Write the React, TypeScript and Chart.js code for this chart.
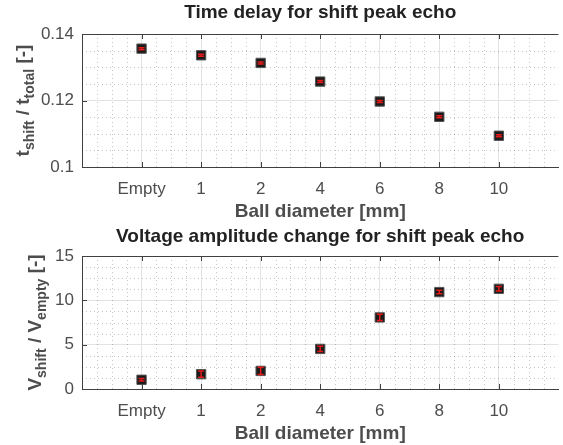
import React, { useEffect, useRef } from 'react';
import { Chart, registerables } from 'chart.js';

Chart.register(...registerables);

const categories = ['Empty', '1', '2', '4', '6', '8', '10'];
const timeRatio = [0.1356, 0.1336, 0.1313, 0.1257, 0.1197, 0.1151, 0.1094];
const timeErr = [0.0003, 0.0003, 0.0003, 0.0003, 0.0003, 0.0003, 0.0003];
const voltRatio = [1.04, 1.67, 2.04, 4.52, 8.07, 10.93, 11.3];
const voltErr = [0.15, 0.35, 0.4, 0.3, 0.35, 0.2, 0.25];
const timeTicks = [0.1, 0.12, 0.14];
const voltTicks = [0, 5, 10, 15];

const FONT = "'Liberation Sans', Arial, Helvetica, sans-serif";
const AXIS_COLOR = '#404040';
const TEXT_COLOR = '#4d4d4d';

type Part = { t: string; sub: boolean };

interface PlotSpec {
  title: string;
  yParts: Part[];
  values: number[];
  errs: number[];
  yTicks: number[];
  minorY: number;
  yTitleX: number;
  titleY: number;
}

function makeChart(canvas: HTMLCanvasElement, spec: PlotSpec) {
  const { values, errs, yTicks, minorY } = spec;
  const yMin = yTicks[0];
  const yMax = yTicks[yTicks.length - 1];
  const xMax = categories.length + 1;

  const decorPlugin = {
    id: 'decor',
    beforeDatasetsDraw(chart: any) {
      const { ctx, chartArea } = chart;
      const xs = chart.scales.x;
      const ys = chart.scales.y;
      ctx.save();
      ctx.beginPath();
      ctx.rect(chartArea.left, chartArea.top, chartArea.right - chartArea.left, chartArea.bottom - chartArea.top);
      ctx.clip();
      ctx.strokeStyle = 'rgba(0,0,0,0.22)';
      ctx.lineWidth = 1;
      ctx.setLineDash([1, 3]);
      for (let k = 1; k < xMax * 4; k++) {
        if (k % 4 === 0) continue;
        const px = Math.round(xs.getPixelForValue(k / 4)) + 0.5;
        ctx.beginPath();
        ctx.moveTo(px, chartArea.top);
        ctx.lineTo(px, chartArea.bottom);
        ctx.stroke();
      }
      const majorStep = yTicks[1] - yTicks[0];
      const nMinor = Math.round((yMax - yMin) / minorY);
      const per = Math.round(majorStep / minorY);
      for (let k = 1; k < nMinor; k++) {
        if (k % per === 0) continue;
        const py = Math.round(ys.getPixelForValue(yMin + k * minorY)) + 0.5;
        ctx.beginPath();
        ctx.moveTo(chartArea.left, py);
        ctx.lineTo(chartArea.right, py);
        ctx.stroke();
      }
      ctx.restore();
    },
    afterDatasetsDraw(chart: any) {
      const { ctx } = chart;
      const xs = chart.scales.x;
      const ys = chart.scales.y;
      ctx.save();
      ctx.strokeStyle = '#e41a1a';
      ctx.lineWidth = 1.5;
      values.forEach((v, i) => {
        const px = xs.getPixelForValue(i + 1);
        const y1 = ys.getPixelForValue(v - errs[i]);
        const y2 = ys.getPixelForValue(v + errs[i]);
        ctx.beginPath();
        ctx.moveTo(px, y1);
        ctx.lineTo(px, y2);
        ctx.moveTo(px - 3, y1);
        ctx.lineTo(px + 3, y1);
        ctx.moveTo(px - 3, y2);
        ctx.lineTo(px + 3, y2);
        ctx.stroke();
      });
      ctx.restore();
    },
    afterDraw(chart: any) {
      const { ctx, chartArea } = chart;
      const xs = chart.scales.x;
      const ys = chart.scales.y;
      ctx.save();
      ctx.strokeStyle = AXIS_COLOR;
      ctx.lineWidth = 1;
      ctx.beginPath();
      ctx.moveTo(chartArea.left, Math.round(chartArea.top) + 0.5);
      ctx.lineTo(chartArea.right, Math.round(chartArea.top) + 0.5);
      ctx.stroke();
      for (let i = 1; i <= categories.length; i++) {
        const px = Math.round(xs.getPixelForValue(i)) + 0.5;
        ctx.beginPath();
        ctx.moveTo(px, chartArea.top);
        ctx.lineTo(px, chartArea.top + 5);
        ctx.moveTo(px, chartArea.bottom);
        ctx.lineTo(px, chartArea.bottom - 5);
        ctx.stroke();
      }
      yTicks.forEach((t) => {
        const py = Math.round(ys.getPixelForValue(t)) + 0.5;
        ctx.beginPath();
        ctx.moveTo(chartArea.left, py);
        ctx.lineTo(chartArea.left + 5, py);
        ctx.stroke();
      });
      ctx.fillStyle = '#222222';
      ctx.font = `bold 19px ${FONT}`;
      ctx.textAlign = 'center';
      ctx.textBaseline = 'middle';
      ctx.fillText(spec.title, (chartArea.left + chartArea.right) / 2, spec.titleY);
      const mainFont = `bold 19px ${FONT}`;
      const subFont = `bold 14px ${FONT}`;
      let total = 0;
      spec.yParts.forEach((p) => {
        ctx.font = p.sub ? subFont : mainFont;
        total += ctx.measureText(p.t).width;
      });
      ctx.translate(spec.yTitleX, (chartArea.top + chartArea.bottom) / 2);
      ctx.rotate(-Math.PI / 2);
      ctx.textAlign = 'left';
      ctx.textBaseline = 'alphabetic';
      ctx.fillStyle = TEXT_COLOR;
      let cx = -total / 2;
      spec.yParts.forEach((p) => {
        ctx.font = p.sub ? subFont : mainFont;
        ctx.fillText(p.t, cx, p.sub ? 5 : 0);
        cx += ctx.measureText(p.t).width;
      });
      ctx.restore();
    },
  };

  return new Chart(canvas, {
    type: 'scatter',
    data: {
      datasets: [
        {
          data: values.map((v, i) => ({ x: i + 1, y: v })),
          backgroundColor: '#1a1a1a',
          borderColor: '#555555',
          borderWidth: 1,
          pointStyle: 'rect',
          pointRadius: 6.6,
          pointHoverRadius: 6.6,
        },
      ],
    },
    options: {
      responsive: false,
      animation: false,
      layout: { padding: { top: 34, left: 0, right: 1, bottom: 0 } },
      plugins: { legend: { display: false }, tooltip: { enabled: false }, title: { display: false } },
      scales: {
        x: {
          type: 'linear',
          min: 0,
          max: xMax,
          afterBuildTicks: (scale: any) => {
            scale.ticks = categories.map((_, i) => ({ value: i + 1 }));
          },
          afterFit: (scale: any) => {
            scale.height = 55;
          },
          ticks: {
            autoSkip: false,
            maxRotation: 0,
            padding: 12,
            color: TEXT_COLOR,
            font: { family: FONT, size: 17 },
            callback: (v: any) => categories[Math.round(Number(v)) - 1] ?? '',
          },
          grid: { color: '#e3e3e3', lineWidth: 1, drawTicks: false },
          border: { display: true, color: AXIS_COLOR, width: 1 },
          title: {
            display: true,
            text: 'Ball diameter [mm]',
            color: TEXT_COLOR,
            font: { family: FONT, size: 19, weight: 'bold' },
            padding: { top: 0, bottom: -1 },
          },
        },
        y: {
          type: 'linear',
          min: yMin,
          max: yMax,
          afterBuildTicks: (scale: any) => {
            scale.ticks = yTicks.map((t) => ({ value: t }));
          },
          afterFit: (scale: any) => {
            scale.width = 82;
          },
          ticks: {
            padding: 8,
            color: TEXT_COLOR,
            font: { family: FONT, size: 17 },
            callback: (v: any) => String(v),
          },
          grid: { color: '#e3e3e3', lineWidth: 1, drawTicks: false },
          border: { display: true, color: AXIS_COLOR, width: 1 },
        },
      },
    },
    plugins: [decorPlugin],
  } as any);
}

function Plot({ spec }: { spec: PlotSpec }) {
  const ref = useRef<HTMLCanvasElement | null>(null);
  useEffect(() => {
    if (!ref.current) return;
    const chart = makeChart(ref.current, spec);
    return () => chart.destroy();
  }, [spec]);
  return <canvas ref={ref} width={566} height={222} style={{ display: 'block' }} />;
}

const topSpec: PlotSpec = {
  title: 'Time delay for shift peak echo',
  yParts: [
    { t: 't', sub: false },
    { t: 'shift', sub: true },
    { t: ' / t', sub: false },
    { t: 'total', sub: true },
    { t: ' [-]', sub: false },
  ],
  values: timeRatio,
  errs: timeErr,
  yTicks: timeTicks,
  minorY: 0.005,
  yTitleX: 29,
  titleY: 13,
};

const bottomSpec: PlotSpec = {
  title: 'Voltage amplitude change for shift peak echo',
  yParts: [
    { t: 'V', sub: false },
    { t: 'shift', sub: true },
    { t: ' / V', sub: false },
    { t: 'empty', sub: true },
    { t: ' [-]', sub: false },
  ],
  values: voltRatio,
  errs: voltErr,
  yTicks: voltTicks,
  minorY: 1.25,
  yTitleX: 41,
  titleY: 15,
};

export default function App() {
  return (
    <div style={{ position: 'fixed', left: 0, top: 0, width: 563, height: 445, overflow: 'hidden', background: '#ffffff' }}>
      <div style={{ position: 'absolute', left: 0, top: 0 }}>
        <Plot spec={topSpec} />
      </div>
      <div style={{ position: 'absolute', left: 0, top: 222 }}>
        <Plot spec={bottomSpec} />
      </div>
    </div>
  );
}
